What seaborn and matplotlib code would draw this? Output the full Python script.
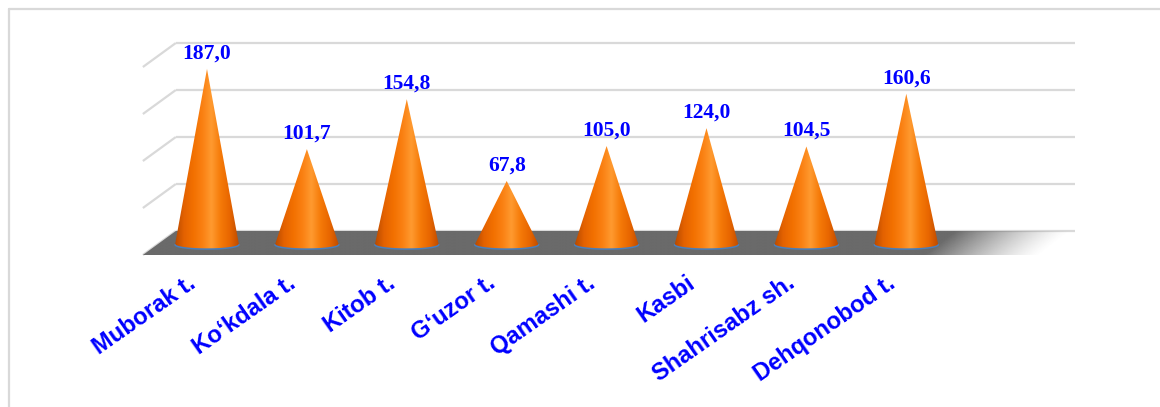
import numpy as np
import matplotlib
matplotlib.use("Agg")
import matplotlib.pyplot as plt
from matplotlib.patches import Polygon
from matplotlib.lines import Line2D
import seaborn as sns

# chart data
districts = ["Muborak t.", "Ko\u2018kdala t.", "Kitob t.", "G\u2018uzor t.",
             "Qamashi t.", "Kasbi", "Shahrisabz sh.", "Dehqonobod t."]
values = [187.0, 101.7, 154.8, 67.8, 105.0, 124.0, 104.5, 160.6]
grid_values = [0, 50, 100, 150, 200]

sns.set_theme(style="white")
plt.rcParams["font.family"] = ["Liberation Sans", "DejaVu Sans"]

W, H = 1160, 407
fig = plt.figure(figsize=(W / 100, H / 100), dpi=100)
ax = fig.add_axes([0, 0, 1, 1])

# pixel layout of the category plane
X0, PX_CAT = 207.0, 99.9
Y0, PX_UNIT = 244.7, 0.94
xlim = ((0 - X0) / PX_CAT, (W - X0) / PX_CAT)
ylim = ((Y0 - H) / PX_UNIT, Y0 / PX_UNIT)

n_slots = len(districts) + 1  # floor runs one slot past the last cone
left, right = -0.5, n_slots - 0.5


def depth(x, y, d):
    # d = 0 front edge of the floor, d = 1 back wall
    return x - 0.142 + 0.33 * d, y - 10.96 + 25.53 * d


grid_col = "#D9D9D9"
for g in grid_values:
    bx0, by = depth(left, g, 1)
    bx1, _ = depth(right, g, 1)
    ax.plot([bx0, bx1], [by, by], color=grid_col, lw=1.6, zorder=1,
            solid_capstyle="butt")
    fx, fy = depth(left, g, 0)
    ax.plot([fx, bx0], [fy, by], color=grid_col, lw=1.6, zorder=1,
            solid_capstyle="butt")

# floor with fade to white on the right
floor_pts = [depth(left, 0, 0), depth(right, 0, 0),
             depth(right, 0, 1), depth(left, 0, 1)]
floor = Polygon(floor_pts, closed=True, facecolor="none", edgecolor="none")
ax.add_patch(floor)
fx0 = min(p[0] for p in floor_pts)
fx1 = max(p[0] for p in floor_pts)
fy0 = min(p[1] for p in floor_pts)
fy1 = max(p[1] for p in floor_pts)
xs = np.linspace(fx0, fx1, 600)
ys = np.linspace(fy1, fy0, 40)
gx, gy = np.meshgrid(xs, ys)
# fade line leans with the floor depth
shift = (gy - fy0) / (fy1 - fy0) * 0.3
fade_a, fade_b = (925 - X0) / PX_CAT, (1040 - X0) / PX_CAT
alpha = np.clip((fade_b + shift - gx) / (fade_b - fade_a), 0, 1) ** 1.3
img = np.zeros(gx.shape + (4,))
img[..., :3] = np.array([0x6A, 0x6A, 0x6A]) / 255
img[..., 3] = alpha
im = ax.imshow(img, extent=[fx0, fx1, fy0, fy1], aspect="auto",
               interpolation="bilinear", zorder=2)
im.set_clip_path(floor)

# cones
cone_cmap = sns.blend_palette(["#B84A00", "#E46200", "#F27000", "#FA8012",
                               "#FF9A30", "#F57A08", "#E86600", "#BF4C00"],
                              as_cmap=True)
hw = 0.32
eb = 4.4 / PX_UNIT
t = np.linspace(0, -np.pi, 60)
for i, v in enumerate(values):
    pts = [(i - hw, 0), (i, v), (i + hw, 0)]
    pts += list(zip(i + hw * np.cos(t), eb * np.sin(t)))
    cone = Polygon(pts, closed=True, facecolor="none", edgecolor="none")
    ax.add_patch(cone)
    cim = ax.imshow(np.linspace(0, 1, 256)[None, :], cmap=cone_cmap,
                    extent=[i - hw, i + hw, -eb, v], aspect="auto",
                    interpolation="bilinear", zorder=3)
    cim.set_clip_path(cone)
    ax.plot(i + hw * np.cos(t), eb * np.sin(t), color="#4A7EBB", lw=1.1,
            zorder=4)
    ax.annotate(f"{v:.1f}".replace(".", ","), (i, v), xytext=(0, 4),
                textcoords="offset points", ha="center", va="bottom",
                fontfamily="Liberation Serif", fontweight="bold",
                fontsize=15.5, color="#0000FF", zorder=5)

# category labels
for i, name in enumerate(districts):
    ax.text(i - 0.1, -44, name, rotation=35, rotation_mode="anchor",
            ha="right", va="baseline", fontsize=17, fontweight="bold",
            color="#0000FF", zorder=5)

ax.set_xlim(*xlim)
ax.set_ylim(*ylim)
ax.axis("off")

# outer chart frame (only top and left edges are inside the picture)
fig.add_artist(Line2D([8.5 / W, 1], [1 - 8.5 / H, 1 - 8.5 / H],
                      color=grid_col, lw=1.6, transform=fig.transFigure))
fig.add_artist(Line2D([8.5 / W, 8.5 / W], [0, 1 - 8.5 / H],
                      color=grid_col, lw=1.6, transform=fig.transFigure))

fig.savefig("out.png", dpi=100, facecolor="white")
